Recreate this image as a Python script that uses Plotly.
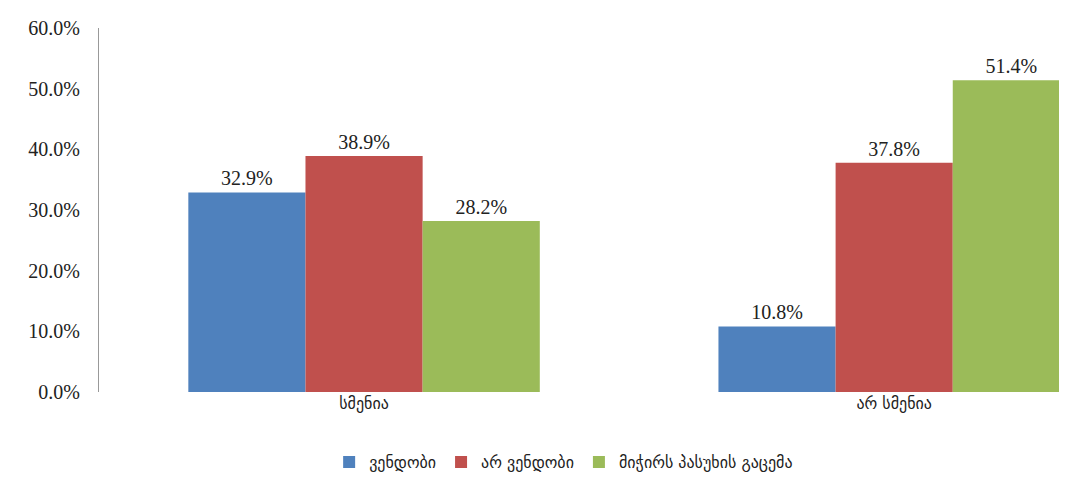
import plotly.graph_objects as go

categories = ["სმენია", "არ სმენია"]
series_names = ["ვენდობი", "არ ვენდობი", "მიჭირს პასუხის გაცემა"]
trust = [32.9, 10.8]
distrust = [38.9, 37.8]
hard_to_answer = [28.2, 51.4]
colors = ["#4F81BD", "#C0504D", "#9BBB59"]
tick_vals = [0, 10, 20, 30, 40, 50, 60]

serif = "Liberation Serif, DejaVu Serif, serif"
geo = "DejaVu Sans, Noto Sans, sans-serif"

fig = go.Figure()
for name, vals, c in zip(series_names, [trust, distrust, hard_to_answer], colors):
    fig.add_trace(go.Bar(
        name=name, x=categories, y=vals, marker_color=c,
        marker_line_width=0,
        text=[f"{v:.1f}%" for v in vals], textposition="outside",
        textfont=dict(family=serif, size=20, color="#222"),
        cliponaxis=False,
    ))

fig.update_layout(
    width=1059, height=484,
    margin=dict(l=91, r=0, t=20, b=100, autoexpand=False),
    paper_bgcolor="white", plot_bgcolor="white",
    barmode="group", bargap=0.337, bargroupgap=0,
    showlegend=True,
    legend=dict(orientation="h", x=0.48, xanchor="center",
                yref="container", y=0.062, yanchor="middle",
                font=dict(family=geo, size=16, color="#222"),
                itemwidth=30, traceorder="normal"),
    font=dict(family=serif, size=16, color="#222"),
)
fig.update_xaxes(range=[-0.5, 1.326], showline=False, showgrid=False, ticks="",
                 automargin=False,
                 tickfont=dict(family=geo, size=16, color="#222"))
fig.update_yaxes(range=[0, 60], tickvals=tick_vals,
                 ticktext=[f"{v:.1f}%" for v in tick_vals],
                 showline=True, linecolor="#999", linewidth=1,
                 showgrid=False, zeroline=False, ticks="outside", ticklen=14,
                 tickcolor="rgba(0,0,0,0)", automargin=False,
                 tickfont=dict(family=serif, size=20, color="#222"))

fig.write_html("out.html")
